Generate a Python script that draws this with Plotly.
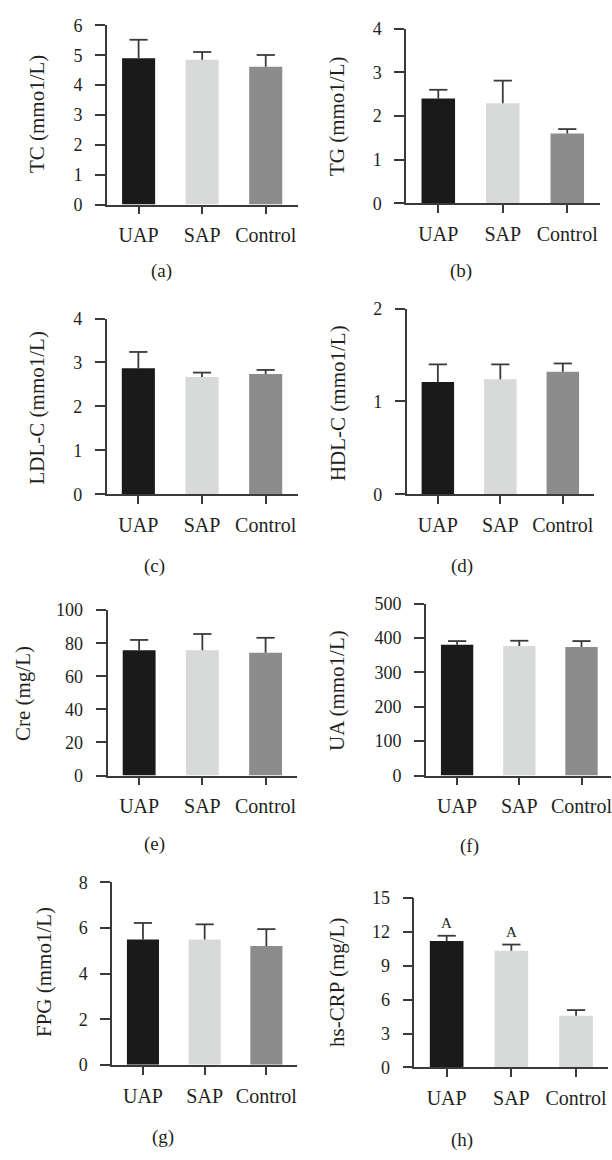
import plotly.graph_objects as go

groups = ["UAP", "SAP", "Control"]

tc = [4.90, 4.85, 4.62]
tc_err = [0.62, 0.26, 0.39]
tg = [2.40, 2.29, 1.60]
tg_err = [0.20, 0.52, 0.10]
ldl = [2.87, 2.67, 2.74]
ldl_err = [0.37, 0.10, 0.09]
hdl = [1.21, 1.24, 1.32]
hdl_err = [0.19, 0.16, 0.09]
cre = [75.8, 75.8, 74.3]
cre_err = [6.2, 9.8, 9.0]
ua = [380, 377, 374]
ua_err = [11, 15, 17]
fpg = [5.50, 5.50, 5.21]
fpg_err = [0.72, 0.66, 0.74]
crp = [11.18, 10.31, 4.58]
crp_err = [0.46, 0.55, 0.49]

titles = ["TC (mmo1/L)", "TG (mmo1/L)", "LDL-C (mmo1/L)", "HDL-C (mmo1/L)",
          "Cre (mg/L)", "UA (mmo1/L)", "FPG (mmo1/L)", "hs-CRP (mg/L)"]
panel_labels = ["(a)", "(b)", "(c)", "(d)", "(e)", "(f)", "(g)", "(h)"]
y_max = [6, 4, 4, 2, 100, 500, 8, 15]
y_step = [1, 1, 1, 1, 20, 100, 2, 3]
values = [tc, tg, ldl, hdl, cre, ua, fpg, crp]
errors = [tc_err, tg_err, ldl_err, hdl_err, cre_err, ua_err, fpg_err, crp_err]
sig_labels = ["A", "A", ""]  # panel (h)

W, H = 612, 1160
FONT = "Liberation Serif"
INK = "#231f20"
AXC = "#3a3a3a"
C_DARK, C_LIGHT, C_MID = "#1a1a1a", "#d8d9d9", "#8c8c8c"

# pixel geometry of each plot area: (x_left, x_right, y_top, y_bottom)
geom = [(107, 298, 15.7, 198), (406.7, 600.5, 19, 196.7),
        (106.7, 298, 314, 492.7), (407.3, 595, 304, 492.7),
        (107.7, 297.7, 610.7, 779), (426.7, 613.6, 604, 779),
        (112.3, 297.7, 887.7, 1073.3), (415, 609.4, 903.3, 1076)]
title_pos = [(37, 106), (337.5, 108), (37.5, 405), (338.5, 400),
             (22.5, 695.6), (337.5, 692), (44, 979), (337.5, 989)]
label_pos = [(162, 266), (462, 266), (155, 566), (463, 566),
             (155, 849), (470, 851), (163, 1147), (463, 1150)]

fig = go.Figure()
annotations = []
for i in range(8):
    n = i + 1
    xa = "x" if n == 1 else f"x{n}"
    ya = "y" if n == 1 else f"y{n}"
    cols = [C_DARK, C_LIGHT, C_LIGHT if i == 7 else C_MID]
    fig.add_trace(go.Bar(
        x=groups, y=values[i], xaxis=xa, yaxis=ya, width=0.52,
        marker=dict(color=cols, line=dict(width=0)),
        showlegend=False, hoverinfo="skip"))
    tops = [v + e for v, e in zip(values[i], errors[i])]
    # upward-only whisker: stem from bar top, cap drawn as a marker
    fig.add_trace(go.Scatter(
        x=groups, y=tops, xaxis=xa, yaxis=ya, mode="markers",
        marker=dict(symbol="line-ew", size=13, color=AXC,
                    line=dict(width=1.8, color=AXC)),
        error_y=dict(type="data", array=[0, 0, 0], arrayminus=errors[i],
                     symmetric=False, color=AXC, thickness=1.8, width=0),
        showlegend=False, hoverinfo="skip", cliponaxis=False))
    x0, x1, yt, yb = geom[i]
    spacing = (x1 - x0) / 3.0
    xr_end = 2.5
    if x1 > W:
        xr_end = -0.5 + (W - x0) / spacing
        x1 = W
    xkey = "xaxis" if n == 1 else f"xaxis{n}"
    ykey = "yaxis" if n == 1 else f"yaxis{n}"
    fig.layout[xkey] = dict(
        domain=[x0 / W, x1 / W], anchor=ya, range=[-0.5, xr_end],
        type="category", showline=True, linecolor=AXC, linewidth=1.6,
        ticks="outside", ticklen=8, tickwidth=1.6, tickcolor=AXC,
        showgrid=False, zeroline=False, fixedrange=True,
        tickfont=dict(family=FONT, size=20, color=INK), ticklabelstandoff=4)
    fig.layout[ykey] = dict(
        domain=[1 - yb / H, 1 - yt / H], anchor=xa, range=[0, y_max[i]],
        tickmode="linear", tick0=0, dtick=y_step[i],
        showline=True, linecolor=AXC, linewidth=1.6,
        ticks="outside", ticklen=10, tickwidth=1.6, tickcolor=AXC,
        showgrid=False, zeroline=False, fixedrange=True,
        tickfont=dict(family=FONT, size=18, color=INK), ticklabelstandoff=9)
    tx, ty = title_pos[i]
    annotations.append(dict(
        text=titles[i], x=tx / W, y=1 - ty / H, xref="paper", yref="paper",
        textangle=-90, showarrow=False, xanchor="center", yanchor="middle",
        font=dict(family=FONT, size=21, color=INK)))
    lx, ly = label_pos[i]
    annotations.append(dict(
        text=panel_labels[i], x=lx / W, y=1 - ly / H, xref="paper", yref="paper",
        showarrow=False, xanchor="center", yanchor="middle",
        font=dict(family=FONT, size=19, color=INK)))

for g, s, v, e in zip(groups, sig_labels, crp, crp_err):
    if s:
        annotations.append(dict(
            text=s, x=g, y=v + e, xref="x8", yref="y8", showarrow=False,
            xanchor="center", yanchor="middle", yshift=13,
            font=dict(family=FONT, size=15, color=INK)))

fig.update_layout(
    width=W, height=H, margin=dict(l=0, r=0, t=0, b=0),
    paper_bgcolor="white", plot_bgcolor="white",
    annotations=annotations, bargap=0.48)

fig.write_html("out.html", config={"displayModeBar": False},
               post_script="document.body.style.margin='0';"
                           "document.body.style.overflow='hidden';")
